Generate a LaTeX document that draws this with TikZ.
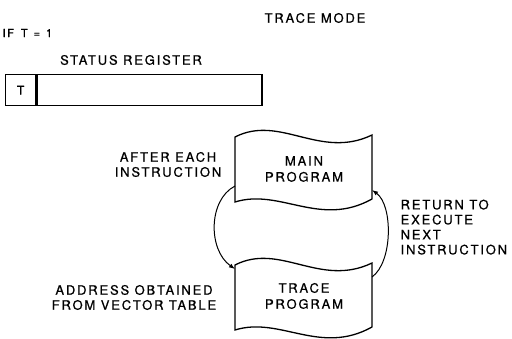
\documentclass[tikz,border=0pt]{standalone}
\usepackage{fontspec}
\setmainfont{TeX Gyre Heros}
\newfontfamily\lbl[LetterSpace=14,FakeBold=0.6]{TeX Gyre Heros}
\usetikzlibrary{arrows.meta}
\begin{document}
\begin{tikzpicture}[x=1pt,y=-1pt,line width=1.3pt,
  txt/.style={font=\lbl\fontsize{13}{15}\selectfont,inner sep=0pt,align=center},
  small/.style={font=\lbl\fontsize{11}{12}\selectfont,inner sep=0pt},
  cell/.style={draw,line width=1.3pt,inner sep=0pt,minimum height=31pt,anchor=north west,font=\lbl\fontsize{12}{14}\selectfont},
  arr/.style={line width=1pt,-{Latex[length=6pt,width=4.5pt]}}]
\useasboundingbox (0,0) rectangle (512,339);
% titles
\node[txt] (title) at (315,18) {TRACE MODE};
\node[small,anchor=west] (cond) at (2,33) {IF\hspace{7pt}T\hspace{6pt}=\hspace{6pt}1};
\node[txt] (srlabel) at (131,60) {STATUS REGISTER};
% register
\node[cell,minimum width=30pt] (tbit) at (5,74) {T};
\node[cell,minimum width=225pt] (rest) at (tbit.north east) {};
% main program shape
\draw (235,137) .. controls (280,114) and (320,160) .. (372,135)
  -- (372,199) .. controls (320,228) and (280,188) .. (235,202) -- cycle;
\node[txt] (main) at (304,169) {MAIN\\[1pt]PROGRAM};
% trace program shape
\draw (235,265) .. controls (280,242) and (320,288) .. (372,263)
  -- (372,327) .. controls (320,356) and (280,316) .. (235,330) -- cycle;
\node[txt] (trace) at (304,296) {TRACE\\[1pt]PROGRAM};
% labels
\node[txt] (after) at (168,164.5) {AFTER EACH\\INSTRUCTION};
\node[txt] (addr) at (134,297.5) {ADDRESS OBTAINED\\FROM VECTOR TABLE};
\node[txt,align=left,anchor=north west] (ret) at (400,199) {RETURN TO\\EXECUTE\\NEXT\\INSTRUCTION};
% connectors
\coordinate (mainW) at (235,186);
\coordinate (traceW) at (235,269);
\coordinate (traceE) at (372,277);
\coordinate (mainE) at (372,190);
\draw[arr] (mainW) .. controls (208,200) and (208,250) .. (traceW);
\draw[arr] (traceE) .. controls (393,262) and (393,205) .. (mainE);
\end{tikzpicture}
\end{document}
